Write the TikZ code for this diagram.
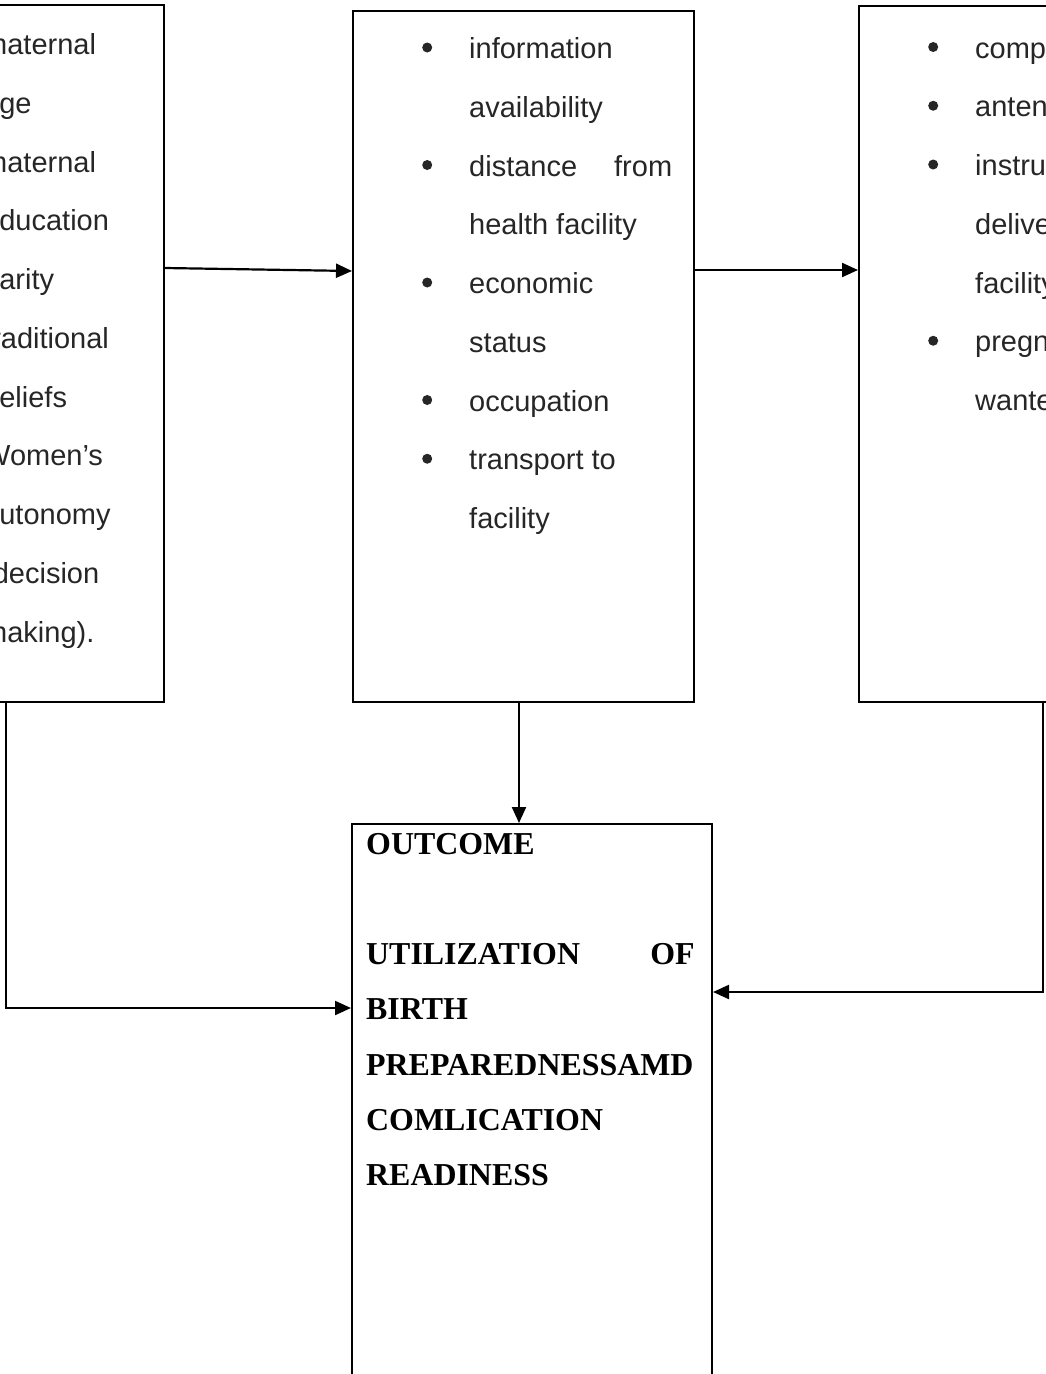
\documentclass[tikz,border=0pt]{standalone}
\usepackage{fontspec}
\usepackage{tikz}
\usetikzlibrary{positioning,
	calc,
	arrows.meta}
\newfontfamily\sansf{Liberation Sans}
\newfontfamily\seriff{Liberation Serif}
\newcommand\listfont{\sansf\fontsize{29pt}{58.75pt}\selectfont\hyphenpenalty=10000 \exhyphenpenalty=10000 \tolerance=10000 }
\newcommand\outfont{\seriff\bfseries\fontsize{31.9pt}{55.3pt}\selectfont\hyphenpenalty=10000 \tolerance=10000 }
\newcommand\bul{\leavevmode\llap{\tikz[baseline=-11pt]\fill (0,0) circle (5pt);\hspace{37pt}}}
\tikzset{
	box/.style={draw, line width=2pt, anchor=north west, inner sep=0pt},
	listtext/.style={anchor=base west, inner sep=0pt, text width=203pt, align=justify, font=\listfont, text=black!85},
	conn/.style={line width=2.2pt, -{Triangle[length=16pt,width=14pt]}}
}

\begin{document}
\begin{tikzpicture}[x=1pt, y=1pt]
	\useasboundingbox (0, 0) rectangle (1046, -1374);
	\clip (0, 0) rectangle (1046, -1374);
	\node[box, minimum width=333pt, minimum height=697pt] (lbox) at (-170, -4) {};
	\node[box, minimum width=341pt, minimum height=691pt] (mbox) at (352, -10) {};
	\node[box, minimum width=370pt, minimum height=696pt] (rbox) at (858, -5) {};
	\node[box, minimum width=360pt, minimum height=600pt] (out) at (351, -823) {};

	\node[listtext, text width=160pt] (ltext) at ([shift={(153pt, -50.5pt)}]lbox.north west)
		{\bul maternal age\par\bul maternal education\par\bul parity\par\bul traditional beliefs\par\bul Women’s autonomy (decision making).};
	\node[listtext] (mtext) at ([shift={(117pt, -48.5pt)}]mbox.north west)
		{\bul information availability\par\bul distance from health facility\par\bul economic status\par\bul occupation\par\bul transport to\\ facility};
	\node[listtext] (rtext) at ([shift={(117pt, -53pt)}]rbox.north west)
		{\bul complications\par\bul antenatal\par\bul instrumental delivery\\ facility\par\bul pregnancy wanted};
	\node[anchor=base west, inner sep=0pt, text width=328.5pt, align=justify, font=\outfont] (otext) at ([shift={(15pt, -31pt)}]out.north west)
		{OUTCOME\par\mbox{}\par UTILIZATION OF\linebreak BIRTH PREPAREDNESSAMD COMLICATION READINESS};

	\coordinate (lturn) at (6, -1008);
	\coordinate (rturn) at (1043, -992);
	\draw[conn] ([yshift=-264pt]lbox.north east) -- ([yshift=-261pt]mbox.north west);
	\draw[conn] ([yshift=-260pt]mbox.north east) -- ([yshift=-265pt]rbox.north west);
	\draw[conn] ([xshift=-4.5pt]mbox.south) -- ([xshift=-4.5pt]mbox.south |- out.north);
	\draw[conn] (lbox.south -| lturn) -- (lturn) -- (out.west |- lturn);
	\draw[conn] (rbox.south -| rturn) -- (rturn) -- (out.east |- rturn);
\end{tikzpicture}
\end{document}
